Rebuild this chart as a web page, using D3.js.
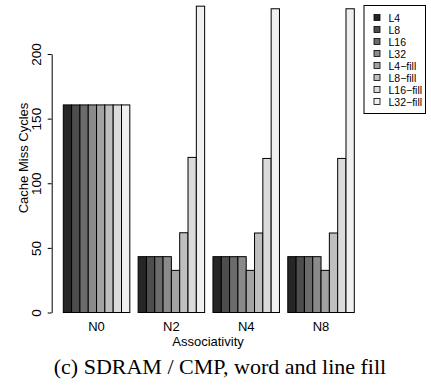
<!DOCTYPE html>
<html>
<head>
<meta charset="utf-8">
<script src="https://cdn.jsdelivr.net/npm/d3@7"></script>
<style>
  body { margin: 0; background: #fff; }
  svg { display: block; }
</style>
</head>
<body>
<div class="canvas"></div>
<script>
// chart size
const width = 431;
const height = 387;

// data
const groups = ['N0', 'N2', 'N4', 'N8'];
const series = ['L4', 'L8', 'L16', 'L32', 'L4-fill', 'L8-fill', 'L16-fill', 'L32-fill'];
const valuesN0 = [160.6, 160.6, 160.6, 160.6, 160.6, 160.6, 160.6, 160.6];
const valuesN2 = [43.2, 43.2, 43.2, 43.2, 32.6, 61.7, 120, 237];
const valuesN4 = [43.2, 43.2, 43.2, 43.2, 32.6, 61.5, 119.2, 235];
const valuesN8 = [43.2, 43.2, 43.2, 43.2, 32.6, 61.5, 119.2, 235];
const yTicks = [0, 50, 100, 150, 200];

const grays = ['#262626', '#4d4d4d', '#6b6b6b', '#8a8a8a', '#a3a3a3', '#bfbfbf', '#dbdbdb', '#f0f0f0'];

const table = [valuesN0, valuesN2, valuesN4, valuesN8];
const data = [];
groups.forEach((g, i) => {
  series.forEach((s, j) => data.push({ group: g, series: s, value: table[i][j] }));
});

// scales
const x0 = d3.scaleBand().domain(groups).range([63.3, 354.3]).paddingInner(1 / 9);
const x1 = d3.scaleBand().domain(series).range([0, x0.bandwidth()]);
const y = d3.scaleLinear().domain([0, 200]).range([312.5, 54]);
const color = d3.scaleOrdinal().domain(series).range(grays);

const svg = d3.select('.canvas').append('svg')
  .attr('width', width)
  .attr('height', height);

// bars
svg.append('g')
  .selectAll('rect')
  .data(data)
  .join('rect')
    .attr('x', d => x0(d.group) + x1(d.series))
    .attr('y', d => y(d.value))
    .attr('width', x1.bandwidth())
    .attr('height', d => y(0) - y(d.value))
    .attr('fill', d => color(d.series))
    .attr('stroke', '#000')
    .attr('stroke-width', 1);

// y axis
const gy = svg.append('g')
  .attr('transform', 'translate(51.7,0)')
  .call(d3.axisLeft(y).tickValues(yTicks).tickSize(4).tickSizeOuter(0).tickPadding(0));
gy.select('.domain').attr('stroke', '#000');
gy.selectAll('.tick line').attr('stroke', '#000');
gy.selectAll('.tick text')
  .attr('font-family', 'Liberation Sans, Arial, sans-serif')
  .attr('font-size', 13.5)
  .attr('fill', '#000')
  .attr('text-anchor', 'middle')
  .attr('x', 0)
  .attr('dy', 0)
  .attr('transform', 'translate(-10.5,0) rotate(-90)');

// x labels
svg.append('g')
  .selectAll('text')
  .data(groups)
  .join('text')
    .attr('x', d => x0(d) + x0.bandwidth() / 2)
    .attr('y', 331)
    .attr('text-anchor', 'middle')
    .attr('font-family', 'Liberation Sans, Arial, sans-serif')
    .attr('font-size', 13)
    .text(d => d);

// axis titles
svg.append('text')
  .attr('x', 208)
  .attr('y', 346)
  .attr('text-anchor', 'middle')
  .attr('font-family', 'Liberation Sans, Arial, sans-serif')
  .attr('font-size', 13)
  .text('Associativity');

svg.append('text')
  .attr('transform', 'translate(28,158) rotate(-90)')
  .attr('text-anchor', 'middle')
  .attr('font-family', 'Liberation Sans, Arial, sans-serif')
  .attr('font-size', 13)
  .text('Cache Miss Cycles');

// caption
svg.append('text')
  .attr('x', 220)
  .attr('y', 374)
  .attr('text-anchor', 'middle')
  .attr('font-family', 'Liberation Serif, Times New Roman, serif')
  .attr('font-size', 22)
  .text('(c) SDRAM / CMP, word and line fill');

// legend
const legend = svg.append('g');
legend.append('rect')
  .attr('x', 364)
  .attr('y', 5.5)
  .attr('width', 61.5)
  .attr('height', 108)
  .attr('fill', '#fff')
  .attr('stroke', '#000');

const items = legend.selectAll('g.item')
  .data(series)
  .join('g')
    .attr('class', 'item')
    .attr('transform', (d, i) => `translate(0,${17.5 + i * 12})`);

items.append('rect')
  .attr('x', 374)
  .attr('y', -3)
  .attr('width', 6)
  .attr('height', 6)
  .attr('fill', d => color(d))
  .attr('stroke', '#000')
  .attr('stroke-width', 0.8);

items.append('text')
  .attr('x', 388.5)
  .attr('y', 4)
  .attr('font-family', 'Liberation Sans, Arial, sans-serif')
  .attr('font-size', 10.5)
  .text(d => d.replace('-', '\u2212'));
</script>
</body>
</html>
